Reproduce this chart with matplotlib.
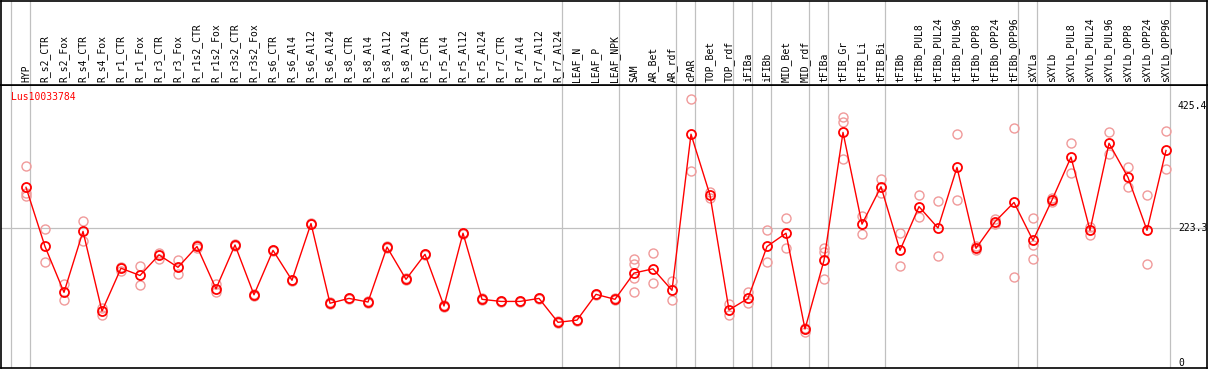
import numpy as np
import matplotlib
matplotlib.use("Agg")
import matplotlib.pyplot as plt

gene = "Lus10033784"

labels = ["HYP", "R_s2_CTR", "R_s2_Fox", "R_s4_CTR", "R_s4_Fox", "R_r1_CTR", "R_r1_Fox",
          "R_r3_CTR", "R_r3_Fox", "R_r1s2_CTR", "R_r1s2_Fox", "R_r3s2_CTR", "R_r3s2_Fox",
          "R_s6_CTR", "R_s6_Al4", "R_s6_Al12", "R_s6_Al24", "R_s8_CTR", "R_s8_Al4",
          "R_s8_Al12", "R_s8_Al24", "R_r5_CTR", "R_r5_Al4", "R_r5_Al12", "R_r5_Al24",
          "R_r7_CTR", "R_r7_Al4", "R_r7_Al12", "R_r7_Al24", "LEAF_N", "LEAF_P", "LEAF_NPK",
          "SAM", "AR_Bet", "AR_rdf", "cPAR", "TOP_Bet", "TOP_rdf", "iFIBa", "iFIBb",
          "MID_Bet", "MID_rdf", "tFIBa", "tFIB_Gr", "tFIB_Li", "tFIB_Bi", "tFIBb",
          "tFIBb_PUL8", "tFIBb_PUL24", "tFIBb_PUL96", "tFIBb_OPP8", "tFIBb_OPP24",
          "tFIBb_OPP96", "sXYLa", "sXYLb", "sXYLb_PUL8", "sXYLb_PUL24", "sXYLb_PUL96",
          "sXYLb_OPP8", "sXYLb_OPP24", "sXYLb_OPP96"]

means = [291, 193, 117, 218, 86, 157, 145, 179, 158.5, 193, 123, 195.5, 113,
         186.6, 137, 231, 99, 107, 101, 192, 138.6, 180, 94.4, 215, 105.5,
         102, 102, 107, 67.4, 71, 113.7, 105.5,
         149, 156, 120.4, 379, 278, 87.8, 107, 193,
         215, 56.3, 170, 382, 230, 292, 186.6,
         259, 223.6, 324, 190, 234, 266,
         203, 270, 341, 219.8, 364, 307.5, 219.8, 352]

reps = [[326, 281, 276], [222, 167], [131, 104], [235, 202], [91, 80], [159, 152], [160, 129],
        [183, 172], [170, 147], [195, 191], [131, 118], [197, 194], [115, 111],
        [188, 185], [138, 136], [232, 230], [101, 97], [108, 106], [102, 100],
        [193, 191], [140, 137], [181, 179], [96, 93], [216, 214], [107, 104],
        [103, 101], [103, 101], [108, 106], [69, 66], [72, 70], [115, 112], [107, 104],
        [173, 164, 140, 118], [182, 132], [136, 104], [438, 318], [284, 274], [97, 80],
        [117, 100], [220, 167], [241, 190], [58, 52], [190, 184, 139], [408, 399, 338],
        [243, 213], [305, 282], [215, 160], [278, 242], [268, 178], [380, 270],
        [194, 187], [239, 230], [389, 142], [241, 195, 172], [274, 266], [364, 315],
        [226, 212], [382, 346], [324, 292], [278, 164], [384, 321]]

# indices after which a grey separator is drawn
group_ends = [-1, 0, 28, 31, 34, 35, 37, 38, 39, 41, 42, 45, 52, 53, 60]

W, H = 1209, 370
fig = plt.figure(figsize=(W / 100, H / 100), dpi=100)

# pixel geometry
x0, dx = 26, 19
left_px, right_px = 1, 1207
sep_px, bottom_px = 85, 368
y0_px, scale = 363, 0.6037

xlim = ((left_px - x0) / dx, (right_px - x0) / dx)
ylim = ((y0_px - bottom_px) / scale, (y0_px - sep_px) / scale)

ax = fig.add_axes([left_px / W, (H - bottom_px) / H,
                   (right_px - left_px) / W, (bottom_px - sep_px) / H])
axl = fig.add_axes([left_px / W, (H - sep_px) / H,
                    (right_px - left_px) / W, (sep_px - 1) / H])

mono = "DejaVu Sans Mono"
x = np.arange(len(labels))

for a in (ax, axl):
    a.set_xlim(*xlim)
    a.set_xticks([])
    a.set_yticks([])
    for s in a.spines.values():
        s.set_color("black")
        s.set_linewidth(1.2)
    for g in group_ends:
        a.axvline(g + 0.21, color="#c0c0c0", lw=0.9, zorder=0)

ax.set_ylim(*ylim)
axl.set_ylim(0, 1)
ax.axhline(223.3, color="#c0c0c0", lw=0.9, zorder=0)

for i, r in enumerate(reps):
    ax.plot([i] * len(r), r, "o", ms=6.5, mfc="none", mec="#f09a9a", mew=1.0, zorder=2)

ax.plot(x, means, "-", color="red", lw=1.0, zorder=3)
ax.plot(x, means, "o", ms=6.5, mfc="none", mec="red", mew=1.3, zorder=4)

for i, lab in enumerate(labels):
    axl.text(i, 0.03, lab, rotation=90, ha="center", va="bottom",
             fontsize=7, family=mono)

ax.text(10 / (right_px - left_px), 1 - 12 / (bottom_px - sep_px), gene,
        transform=ax.transAxes, color="red", fontsize=7, family=mono,
        ha="left", va="center")

xt = (1178 - x0) / dx
for v in [425.4, 223.3, 0]:
    ax.text(xt, v, f"{v:g}", ha="left", va="center", fontsize=7, family=mono)

fig.savefig("out.png", dpi=100)
